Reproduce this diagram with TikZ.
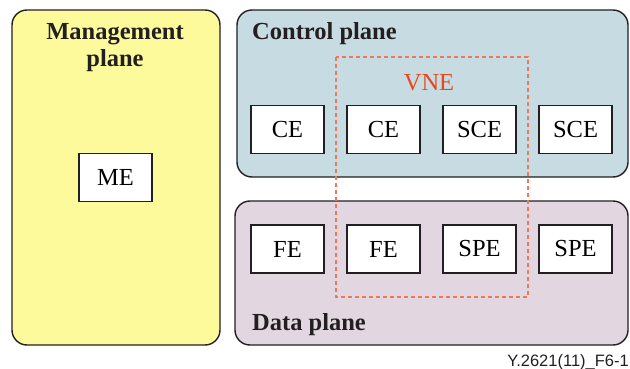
\documentclass[tikz,border=0pt]{standalone}
\usepackage{fontspec}
\setmainfont{Liberation Serif}
\newfontfamily\footfont{Liberation Sans}
\definecolor{mgmt}{RGB}{253,250,155}
\definecolor{ctrl}{RGB}{198,219,226}
\definecolor{datap}{RGB}{226,215,224}
\definecolor{vnec}{RGB}{232,72,28}
\definecolor{vnedash}{RGB}{238,120,90}
\definecolor{edge}{RGB}{35,31,32}
\begin{document}
\begin{tikzpicture}[x=1pt,y=-1pt,
  plane/.style={draw=edge,line width=1.4pt,rounded corners=15pt},
  elem/.style={draw=edge,fill=white,line width=1.8pt,minimum width=73pt,minimum height=48pt,inner sep=0pt,font=\fontsize{24.5}{28}\selectfont},
  title/.style={font=\fontsize{24.5}{28}\selectfont\bfseries,text=edge,inner sep=0pt}]
\useasboundingbox (0,0) rectangle (630,369);
\path[plane,fill=mgmt] (12,10) rectangle (220,345);
\path[plane,fill=ctrl] (237,10) rectangle (628,177);
\path[plane,fill=datap] (235,201) rectangle (628,345);
\node[title,anchor=base] (mt) at (115,40) {Management};
\node[title,anchor=base] (mt2) at (115,67) {plane};
\node[title,anchor=base west] (ct) at (252,40) {Control plane};
\node[title,anchor=base west] (dt) at (252,330) {Data plane};
\node[elem] (me) at (115.5,177.5) {ME};
\node[elem] (ce1) at (287.5,129.5) {CE};
\node[elem] (ce2) at (383.5,129.5) {CE};
\node[elem] (sce1) at (479.5,129.5) {SCE};
\node[elem] (sce2) at (575.5,129.5) {SCE};
\node[elem] (fe1) at (287.5,249) {FE};
\node[elem] (fe2) at (383.5,249) {FE};
\node[elem] (spe1) at (479.5,249) {SPE};
\node[elem] (spe2) at (575.5,249) {SPE};
\draw[vnedash,line width=1.2pt,dash pattern=on 4pt off 3pt] (336,57) rectangle (528,297);
\node[text=vnec,font=\fontsize{24.5}{28}\selectfont,inner sep=0pt] (vne) at (429,83) {VNE};
\node[anchor=base east,font=\footfont\fontsize{16.5}{18}\selectfont,inner sep=0pt,text=edge] (foot) at (629,366) {Y.2621(11)\_F6-1};
\end{tikzpicture}
\end{document}
